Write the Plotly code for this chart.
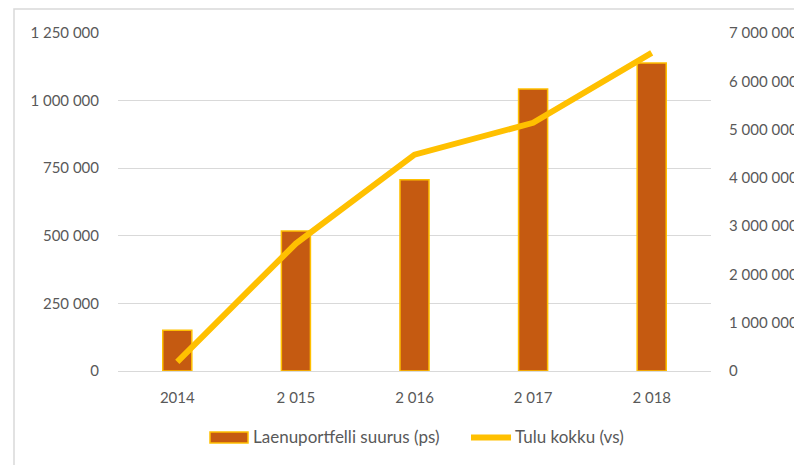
import plotly.graph_objects as go

years = ["2014", "2 015", "2 016", "2 017", "2 018"]
laenuportfell = [151000, 518000, 707000, 1043000, 1139000]
tulu_kokku = [190000, 2640000, 4480000, 5140000, 6590000]

# page is rendered with an 8px body margin
OFF = 8
W, H = 802 - OFF, 465 - OFF
L, R, T, B = 118 - OFF, 91, 33 - OFF, 94
pw, ph = W - L - R, H - T - B


def px(x):
    return (x - OFF - L) / pw


def py(y):
    return (H - B - (y - OFF)) / ph


fig = go.Figure()
fig.add_trace(go.Bar(
    x=years, y=laenuportfell, name="Laenuportfelli suurus (ps)",
    marker=dict(color="#C55A11", line=dict(color="#FFC000", width=1.5)),
    width=0.245, yaxis="y",
))
fig.add_trace(go.Scatter(
    x=years, y=tulu_kokku, name="Tulu kokku (vs)", mode="lines",
    line=dict(color="#FFC000", width=6), yaxis="y2",
))

font = dict(family="Lato, Carlito, Open Sans, sans-serif", size=15, color="#595959")
lfont = dict(family="Lato, Carlito, Open Sans, sans-serif", size=17, color="#595959")

shapes = [
    dict(type="rect", xref="paper", yref="paper",
         x0=px(14), x1=px(820), y0=py(480), y1=py(9),
         line=dict(color="#D9D9D9", width=1.5), fillcolor="rgba(0,0,0,0)",
         layer="below"),
    # legend swatches
    dict(type="rect", xref="paper", yref="paper",
         x0=px(210), x1=px(248), y0=py(443), y1=py(432),
         line=dict(color="#FFC000", width=1.5), fillcolor="#C55A11"),
    dict(type="line", xref="paper", yref="paper",
         x0=px(471), x1=px(511), y0=py(437.5), y1=py(437.5),
         line=dict(color="#FFC000", width=6)),
]
annotations = [
    dict(text="Laenuportfelli suurus (ps)", xref="paper", yref="paper",
         x=px(251), y=py(437), xanchor="left", yanchor="middle",
         showarrow=False, font=lfont),
    dict(text="Tulu kokku (vs)", xref="paper", yref="paper",
         x=px(513), y=py(437), xanchor="left", yanchor="middle",
         showarrow=False, font=lfont),
]

fig.update_layout(
    width=W, height=H,
    margin=dict(l=L, r=R, t=T, b=B, autoexpand=False),
    paper_bgcolor="white", plot_bgcolor="white",
    separators=". ",
    font=font,
    showlegend=False,
    xaxis=dict(type="category", showgrid=False, showline=False, ticks="",
               ticklabelstandoff=16, tickfont=font),
    yaxis=dict(range=[0, 1250000], dtick=250000, tickformat=",d",
               showgrid=True, gridcolor="#D9D9D9", gridwidth=1,
               zeroline=True, zerolinecolor="#D9D9D9", zerolinewidth=1,
               showline=False, ticks="", ticklabelstandoff=18, tickfont=font),
    yaxis2=dict(range=[0, 7000000], dtick=1000000, tickformat=",d",
                overlaying="y", side="right", showgrid=False, zeroline=False,
                showline=False, ticks="", ticklabelstandoff=17, tickfont=font),
    shapes=shapes,
    annotations=annotations,
)

fig.write_html("out.html")
